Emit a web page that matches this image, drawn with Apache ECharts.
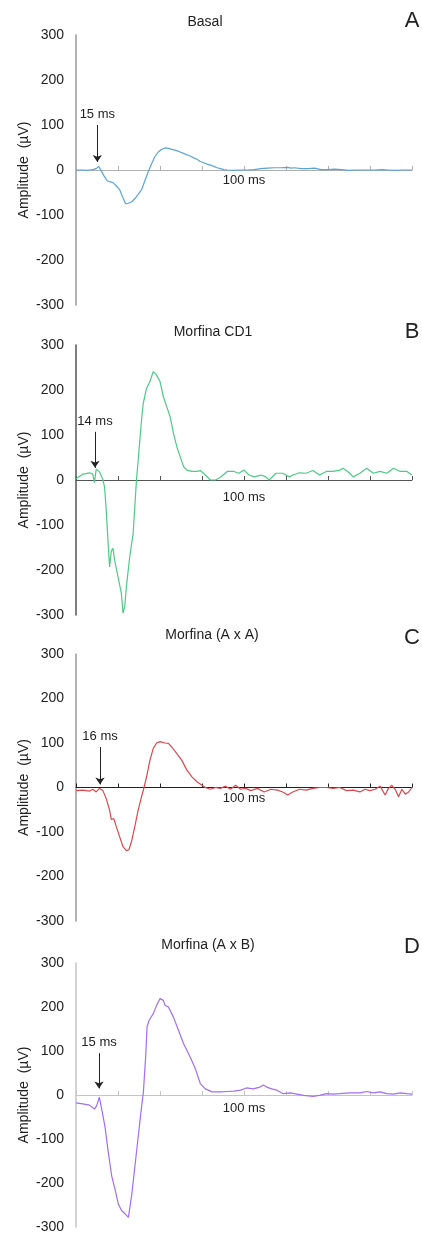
<!DOCTYPE html>
<html>
<head>
    <meta charset="UTF-8">
    <title>Potenciales evocados</title>
    <script src="https://cdn.jsdelivr.net/npm/echarts@6/dist/echarts.min.js"></script>
</head>
<body style="margin:0">
    <div id="main"></div>
</body>
<style type="text/css">
    #main{width: 422px;height: 1236px;}
</style>
<script type="text/javascript">
// registros [ms, µV]
var basal = [[0,0],[4,0],[6,-1],[8,0],[10,1],[12,3],[13.5,8],[15,-2],[16.5,-12],[18.5,-24],[20,-26],[22,-28],[24,-35],[26,-44],[28,-62],[29.5,-75],[31,-74],[33,-71],[35,-64],[37,-54],[39,-44],[41,-24],[43,-4],[45,14],[47,30],[49,40],[51,46],[53,49],[55,48],[57,46],[60,43],[62,40],[64,37],[66,34],[68,31],[70,27],[72,24],[74,19],[76,16],[78,13],[80,11],[82,8],[84,5],[86,3],[88,1],[90,0],[94,-1],[98,0],[102,0],[106,1],[110,3],[114,4],[118,5],[122,5],[126,6],[128,4],[130,5],[134,3],[138,3],[142,4],[146,1],[150,1],[154,2],[158,1],[162,-1],[166,0],[170,0],[174,0],[178,0],[182,1],[186,0],[190,-1],[194,0],[198,0],[200,0]];

var morfinaCD1 = [[0,3],[2,8],[4,13],[6,14],[8,16],[10,13],[11,-6],[12,24],[14,18],[16,1],[17,-16],[18,-67],[19,-133],[20,-193],[21,-158],[22,-152],[23,-178],[25,-215],[27,-252],[28,-296],[29,-281],[30,-237],[32,-170],[34,-119],[36,0],[37,44],[38,89],[39,133],[40,170],[42,204],[44,219],[46,241],[48,233],[50,219],[52,185],[54,163],[56,141],[58,104],[60,74],[62,52],[64,30],[66,22],[69,19],[72,19],[74,21],[77,11],[80,0],[83,0],[86,6],[90,19],[94,19],[97,15],[100,22],[103,11],[106,7],[110,11],[113,7],[115,0],[119,15],[123,15],[127,7],[129,11],[133,16],[137,15],[141,21],[145,11],[149,19],[153,19],[157,22],[159,26],[163,15],[165,7],[169,15],[173,26],[177,15],[181,19],[185,15],[189,26],[193,19],[197,19],[200,11]];

var morfinaAxA = [[0,-7],[4,-6],[8,-8],[10,-4],[12,-10],[14,-2],[16,-7],[18,-25],[20,-51],[21,-72],[22.5,-70],[24,-88],[26,-111],[28,-133],[30,-142],[31.5,-140],[33,-122],[35,-88],[37,-51],[39,-21],[40.5,0],[42,24],[44,61],[46,88],[48,100],[50,103],[53,100],[55,99],[57,91],[60,76],[63,61],[66,39],[69,24],[72,13],[75,5],[77,0],[80,-4],[83,0],[86,-2],[89,3],[92,-4],[95,5],[98,-4],[101,-2],[104,-7],[108,-2],[112,-10],[116,-4],[120,-6],[123,-10],[126,-17],[129,-10],[133,-4],[137,-6],[141,-2],[145,0],[149,0],[153,-2],[157,0],[161,-7],[165,-6],[169,-10],[172,-4],[175,-7],[178,-4],[181,3],[184,-17],[186,-2],[188,5],[190,-4],[192,-21],[194,-4],[196,-15],[198,-10],[200,0]];

var morfinaAxB = [[0,-18],[4,-20],[8,-23],[11,-32],[12.3,-24],[13.9,-5],[15.3,-32],[17.3,-73],[19.2,-130],[21.2,-183],[23.2,-214],[25.2,-248],[27.2,-263],[29.2,-270],[31.2,-278],[33.1,-229],[35.1,-161],[37.1,-92],[39.1,-24],[40.1,6],[41.5,89],[42.3,155],[43.5,170],[46,185],[48,204],[50,219],[51,223],[52,215],[53,204],[55,200],[58,177],[61,147],[64,117],[68,86],[71,60],[74,26],[77,14],[81,7],[86,7],[90,8],[94,9],[98,11],[101.5,16],[105.5,14],[109.5,18],[111.5,23],[113.5,18],[116.5,14],[119.5,11],[123.5,3],[127.5,5],[131.5,2],[135.5,-1],[141,-3],[145,-1],[149,3],[153,2],[157,3],[163,5],[169,5],[173,8],[177,5],[181,7],[185,3],[189,2],[193,5],[197,3],[200,2]];

var records = [basal, morfinaCD1, morfinaAxA, morfinaAxB];
var titles = ['Basal', 'Morfina CD1', 'Morfina (A x A)', 'Morfina (A x B)'];
var letters = ['A', 'B', 'C', 'D'];
var latencies = ['15 ms', '14 ms', '16 ms', '15 ms'];
// flecha: [ms, desde µV, hasta µV]
var arrows = [[12.7, 100, 18], [11.3, 107, 27], [14.3, 91, 7], [13.7, 95, 15]];
var colors = ['#5aa3dd', '#4ccb86', '#e0474c', '#a36ef3'];

// disposicion de los paneles (px)
var panels = [
    { top: 35,  height: 270, titleY: 22,  letterY: 21,  xLine: '#b0b0b0', yLine: '#999999', lblGap: 4 },
    { top: 345, height: 270, titleY: 332, letterY: 332, xLine: '#555555', yLine: '#555555', lblGap: 11 },
    { top: 654, height: 267, titleY: 635, letterY: 638, xLine: '#222222', yLine: '#999999', lblGap: 4 },
    { top: 963, height: 264, titleY: 945, letterY: 947, xLine: '#c4c4c4', yLine: '#c4c4c4', lblGap: 7 }
];
var titleX = [205, 213, 212, 208];
var fontFam = '"Liberation Sans", Arial, sans-serif';

var chart = echarts.init(document.getElementById('main'));

var grids = [], xAxes = [], yAxes = [], series = [], graphics = [];
panels.forEach(function (p, i) {
    grids.push({ left: 76, right: 10, top: p.top, height: p.height });
    xAxes.push({
        type: 'value', gridIndex: i, min: 0, max: 200, interval: 25,
        axisLine: { onZero: true, lineStyle: { color: p.xLine, width: 1 } },
        axisTick: { show: true, inside: true, length: 4, lineStyle: { color: p.xLine } },
        axisLabel: { show: false },
        splitLine: { show: false }
    });
    yAxes.push({
        type: 'value', gridIndex: i, min: -300, max: 300, interval: 100,
        name: 'Amplitude  (\u00b5V)', nameLocation: 'middle', nameGap: 45, nameMoveOverlap: false,
        nameTextStyle: { fontSize: 14, color: '#222', fontFamily: fontFam },
        axisLine: { show: true, onZero: false, lineStyle: { color: p.yLine, width: 1.5 } },
        axisTick: { show: false },
        axisLabel: { margin: 12, fontSize: 14, color: '#222', fontFamily: fontFam },
        splitLine: { show: false }
    });
    series.push({
        type: 'line', xAxisIndex: i, yAxisIndex: i, data: records[i],
        showSymbol: false, symbol: 'none', smooth: false,
        lineStyle: { color: colors[i], width: 1.2 },
        markLine: {
            silent: true, symbol: ['none', 'arrow'], symbolSize: 7,
            lineStyle: { color: '#222', width: 1, type: 'solid' },
            label: { show: true, position: 'start', distance: 4, formatter: latencies[i],
                fontSize: 13, color: '#222', fontFamily: fontFam },
            data: [[{ coord: [arrows[i][0], arrows[i][1]] }, { coord: [arrows[i][0], arrows[i][2]] }]]
        },
        // etiqueta "100 ms" bajo la linea de cero
        markPoint: {
            silent: true, symbol: 'circle', symbolSize: 0,
            label: { show: true, position: 'bottom', distance: p.lblGap, formatter: '100 ms',
                fontSize: 13, color: '#222', fontFamily: fontFam },
            data: [{ coord: [100, 0] }]
        }
    });
    graphics.push({ type: 'text', x: titleX[i], y: p.titleY,
        style: { text: titles[i], fontSize: 14, fontFamily: fontFam, fill: '#222', align: 'center', verticalAlign: 'middle' } });
    graphics.push({ type: 'text', x: 412, y: p.letterY,
        style: { text: letters[i], fontSize: 22, fontFamily: fontFam, fill: '#222', align: 'center', verticalAlign: 'middle' } });
});

chart.setOption({
    animation: false,
    backgroundColor: '#ffffff',
    grid: grids,
    xAxis: xAxes,
    yAxis: yAxes,
    series: series,
    graphic: graphics
});
</script>
</html>
